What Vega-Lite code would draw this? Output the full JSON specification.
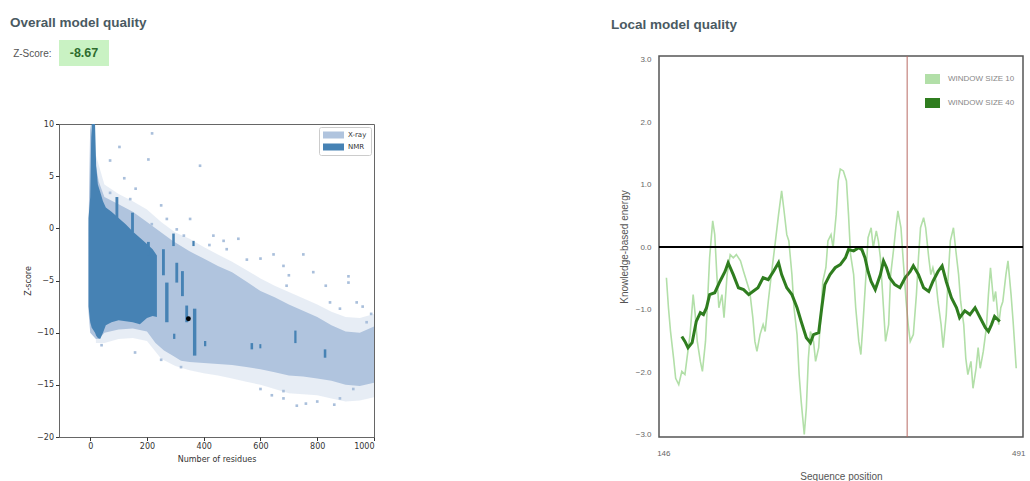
{
  "$schema": "https://vega.github.io/schema/vega-lite/v6.json",
  "background": "white",
  "padding": {"left": 10, "top": 15, "right": 2, "bottom": 0},
  "config": {"font": "Liberation Sans", "axis": {"grid": false}},
  "resolve": {"scale": {"color": "independent"}, "legend": {"color": "independent"}},
  "datasets": {
    "bands": [
      {"type": "X-ray", "n": -6, "z": 0, "z2": -8},
      {"type": "X-ray", "n": 0, "z": 10, "z2": -10},
      {"type": "X-ray", "n": 20, "z": 6, "z2": -10.6},
      {"type": "X-ray", "n": 30, "z": 4.5, "z2": -10.6},
      {"type": "X-ray", "n": 50, "z": 3, "z2": -10},
      {"type": "X-ray", "n": 100, "z": 2.3, "z2": -9.7},
      {"type": "X-ray", "n": 150, "z": 1.6, "z2": -9.6},
      {"type": "X-ray", "n": 200, "z": 0.6, "z2": -9.9},
      {"type": "X-ray", "n": 230, "z": 0, "z2": -11},
      {"type": "X-ray", "n": 260, "z": -0.6, "z2": -11.7},
      {"type": "X-ray", "n": 290, "z": -1.2, "z2": -12.2},
      {"type": "X-ray", "n": 320, "z": -1.7, "z2": -12.7},
      {"type": "X-ray", "n": 350, "z": -2.2, "z2": -12.8},
      {"type": "X-ray", "n": 400, "z": -2.9, "z2": -12.9},
      {"type": "X-ray", "n": 450, "z": -3.6, "z2": -13},
      {"type": "X-ray", "n": 500, "z": -4.2, "z2": -13.1},
      {"type": "X-ray", "n": 550, "z": -5.1, "z2": -13.3},
      {"type": "X-ray", "n": 600, "z": -6.0, "z2": -13.5},
      {"type": "X-ray", "n": 650, "z": -6.6, "z2": -13.8},
      {"type": "X-ray", "n": 700, "z": -7.3, "z2": -14.1},
      {"type": "X-ray", "n": 750, "z": -7.9, "z2": -14.2},
      {"type": "X-ray", "n": 800, "z": -8.5, "z2": -14.4},
      {"type": "X-ray", "n": 850, "z": -9.3, "z2": -14.6},
      {"type": "X-ray", "n": 900, "z": -9.9, "z2": -15.0},
      {"type": "X-ray", "n": 950, "z": -10.0, "z2": -15.1},
      {"type": "X-ray", "n": 1000, "z": -9.4, "z2": -14.8},
      {"type": "NMR", "n": -6, "z": 1.0, "z2": -7.5},
      {"type": "NMR", "n": 0, "z": 3.0, "z2": -9},
      {"type": "NMR", "n": 3, "z": 8, "z2": -9.3},
      {"type": "NMR", "n": 5, "z": 10, "z2": -9.5},
      {"type": "NMR", "n": 17, "z": 10, "z2": -10},
      {"type": "NMR", "n": 21, "z": 6, "z2": -10.3},
      {"type": "NMR", "n": 27, "z": 4.2, "z2": -10.5},
      {"type": "NMR", "n": 35, "z": 3.5, "z2": -10.6},
      {"type": "NMR", "n": 45, "z": 2.6, "z2": -10},
      {"type": "NMR", "n": 55, "z": 2.0, "z2": -9.3},
      {"type": "NMR", "n": 75, "z": 1.6, "z2": -9.0},
      {"type": "NMR", "n": 100, "z": 1.0, "z2": -8.8},
      {"type": "NMR", "n": 125, "z": 0.4, "z2": -8.9},
      {"type": "NMR", "n": 150, "z": -0.3, "z2": -9.0},
      {"type": "NMR", "n": 175, "z": -0.9, "z2": -9.2},
      {"type": "NMR", "n": 200, "z": -1.5, "z2": -8.6},
      {"type": "NMR", "n": 220, "z": -2.0, "z2": -8.4},
      {"type": "NMR", "n": 235, "z": -2.6, "z2": -8.5}
    ],
    "fringe": [
      {"n": 20, "z": 7, "z2": -11},
      {"n": 50, "z": 4.2, "z2": -11},
      {"n": 100, "z": 3.3, "z2": -10.6},
      {"n": 150, "z": 2.6, "z2": -10.5},
      {"n": 200, "z": 1.8, "z2": -10.8},
      {"n": 250, "z": 0.6, "z2": -12.5},
      {"n": 300, "z": -0.4, "z2": -13.2},
      {"n": 350, "z": -1.0, "z2": -13.6},
      {"n": 400, "z": -1.8, "z2": -13.9},
      {"n": 450, "z": -2.5, "z2": -14.1},
      {"n": 500, "z": -3.2, "z2": -14.4},
      {"n": 550, "z": -4.0, "z2": -14.7},
      {"n": 600, "z": -4.8, "z2": -15.0},
      {"n": 650, "z": -5.5, "z2": -15.4},
      {"n": 700, "z": -6.1, "z2": -15.8},
      {"n": 750, "z": -6.7, "z2": -15.9},
      {"n": 800, "z": -7.3, "z2": -16.0},
      {"n": 850, "z": -8.0, "z2": -16.3},
      {"n": 900, "z": -8.5, "z2": -16.6},
      {"n": 950, "z": -8.6, "z2": -16.5},
      {"n": 1000, "z": -8.2, "z2": -16.2}
    ],
    "streaks": [
      {"n": 89, "n2": 99, "z": 3.0, "z2": 0.9},
      {"n": 144, "n2": 154, "z": 1.5, "z2": -0.4},
      {"n": 200, "n2": 210, "z": -1.3, "z2": -2.6},
      {"n": 253, "n2": 263, "z": -2.0, "z2": -4.5},
      {"n": 264, "n2": 276, "z": -5.2, "z2": -9.0},
      {"n": 289, "n2": 298, "z": -0.5, "z2": -1.7},
      {"n": 300, "n2": 310, "z": -3.3, "z2": -5.2},
      {"n": 320, "n2": 330, "z": -4.1, "z2": -6.5},
      {"n": 335, "n2": 345, "z": -7.4, "z2": -9.0},
      {"n": 362, "n2": 374, "z": -7.7, "z2": -12.2},
      {"n": 360, "n2": 368, "z": -1.2, "z2": -1.7},
      {"n": 292, "n2": 300, "z": -10.1, "z2": -10.6},
      {"n": 401, "n2": 409, "z": -10.8, "z2": -11.3},
      {"n": 565, "n2": 574, "z": -11.0, "z2": -11.6},
      {"n": 596, "n2": 603, "z": -11.1, "z2": -11.5},
      {"n": 719, "n2": 727, "z": -9.8, "z2": -11.0},
      {"n": 823, "n2": 832, "z": -11.6, "z2": -12.4}
    ],
    "outliers": [
      {"n": 103, "z": 7.8}, {"n": 218, "z": 9.1}, {"n": 70, "z": 6.5}, {"n": 205, "z": 6.6},
      {"n": 387, "z": 6.0}, {"n": 70, "z": 3.4}, {"n": 141, "z": 2.8}, {"n": 217, "z": 0.4},
      {"n": 270, "z": 0.9}, {"n": 352, "z": 0.9}, {"n": 305, "z": -0.1}, {"n": 434, "z": -0.7},
      {"n": 522, "z": -1.0}, {"n": 481, "z": -2.0}, {"n": 552, "z": -3.0}, {"n": 646, "z": -2.5},
      {"n": 751, "z": -2.5}, {"n": 681, "z": -3.6}, {"n": 786, "z": -4.2}, {"n": 910, "z": -4.6},
      {"n": 910, "z": -5.2}, {"n": 939, "z": -7.1}, {"n": 974, "z": -9.0}, {"n": 845, "z": -7.1},
      {"n": 692, "z": -5.5}, {"n": 880, "z": -7.7}, {"n": 158, "z": -11.9}, {"n": 681, "z": -15.6},
      {"n": 681, "z": -16.3}, {"n": 728, "z": -17.0}, {"n": 760, "z": -16.8}, {"n": 800, "z": -16.6},
      {"n": 860, "z": -16.9}, {"n": 880, "z": -16.3}, {"n": 927, "z": -15.4}, {"n": 600, "z": -15.4},
      {"n": 640, "z": -16.0}, {"n": 120, "z": 4.8}, {"n": 160, "z": 3.8}, {"n": 250, "z": 2.2},
      {"n": 330, "z": -0.7}, {"n": 420, "z": -1.6}, {"n": 470, "z": -1.2}, {"n": 600, "z": -2.9},
      {"n": 700, "z": -4.5}, {"n": 830, "z": -5.5}, {"n": 960, "z": -7.5}, {"n": 990, "z": -8.2},
      {"n": 40, "z": -11.2}, {"n": 250, "z": -12.6}, {"n": 320, "z": -13.3}
    ],
    "model": [{"n": 346, "z": -8.67}],
    "energy": [
      {"w": 10, "pos": 149, "e": -0.49}, {"w": 10, "pos": 151, "e": -0.97}, {"w": 10, "pos": 153, "e": -1.35},
      {"w": 10, "pos": 156, "e": -1.78}, {"w": 10, "pos": 158, "e": -2.10}, {"w": 10, "pos": 161, "e": -2.20},
      {"w": 10, "pos": 164, "e": -1.99}, {"w": 10, "pos": 167, "e": -2.04}, {"w": 10, "pos": 169, "e": -1.78},
      {"w": 10, "pos": 172, "e": -1.40}, {"w": 10, "pos": 175, "e": -0.76}, {"w": 10, "pos": 177, "e": -1.08},
      {"w": 10, "pos": 179, "e": -1.51}, {"w": 10, "pos": 182, "e": -1.83}, {"w": 10, "pos": 184, "e": -1.99},
      {"w": 10, "pos": 187, "e": -1.51}, {"w": 10, "pos": 189, "e": -0.87}, {"w": 10, "pos": 191, "e": -0.17},
      {"w": 10, "pos": 194, "e": 0.42}, {"w": 10, "pos": 196, "e": 0.20}, {"w": 10, "pos": 198, "e": -0.44},
      {"w": 10, "pos": 200, "e": -0.97}, {"w": 10, "pos": 203, "e": -0.76}, {"w": 10, "pos": 205, "e": -1.13},
      {"w": 10, "pos": 208, "e": -0.44}, {"w": 10, "pos": 211, "e": -0.12}, {"w": 10, "pos": 214, "e": -0.17},
      {"w": 10, "pos": 217, "e": -0.12}, {"w": 10, "pos": 221, "e": -0.22}, {"w": 10, "pos": 224, "e": -0.39},
      {"w": 10, "pos": 227, "e": -0.55}, {"w": 10, "pos": 230, "e": -0.71}, {"w": 10, "pos": 233, "e": -1.13},
      {"w": 10, "pos": 235, "e": -1.51}, {"w": 10, "pos": 237, "e": -1.67}, {"w": 10, "pos": 240, "e": -1.40},
      {"w": 10, "pos": 243, "e": -1.24}, {"w": 10, "pos": 245, "e": -1.35}, {"w": 10, "pos": 248, "e": -0.87},
      {"w": 10, "pos": 251, "e": -0.44}, {"w": 10, "pos": 255, "e": 0.10}, {"w": 10, "pos": 258, "e": 0.52},
      {"w": 10, "pos": 261, "e": 0.90}, {"w": 10, "pos": 263, "e": 0.63}, {"w": 10, "pos": 266, "e": 0.20},
      {"w": 10, "pos": 268, "e": 0.10}, {"w": 10, "pos": 271, "e": -0.44}, {"w": 10, "pos": 273, "e": -0.97},
      {"w": 10, "pos": 276, "e": -1.40}, {"w": 10, "pos": 278, "e": -2.04}, {"w": 10, "pos": 280, "e": -2.47},
      {"w": 10, "pos": 283, "e": -3.00}, {"w": 10, "pos": 285, "e": -2.58}, {"w": 10, "pos": 287, "e": -1.78},
      {"w": 10, "pos": 289, "e": -1.35}, {"w": 10, "pos": 292, "e": -1.51}, {"w": 10, "pos": 294, "e": -1.83},
      {"w": 10, "pos": 297, "e": -1.61}, {"w": 10, "pos": 299, "e": -1.13}, {"w": 10, "pos": 301, "e": -0.55},
      {"w": 10, "pos": 304, "e": -0.33}, {"w": 10, "pos": 306, "e": 0.10}, {"w": 10, "pos": 309, "e": 0.20},
      {"w": 10, "pos": 311, "e": -0.01}, {"w": 10, "pos": 314, "e": 0.52}, {"w": 10, "pos": 316, "e": 1.06},
      {"w": 10, "pos": 318, "e": 1.25}, {"w": 10, "pos": 321, "e": 1.22}, {"w": 10, "pos": 324, "e": 1.06},
      {"w": 10, "pos": 326, "e": 0.52}, {"w": 10, "pos": 328, "e": -0.12}, {"w": 10, "pos": 331, "e": -0.44},
      {"w": 10, "pos": 333, "e": -0.97}, {"w": 10, "pos": 336, "e": -1.51}, {"w": 10, "pos": 338, "e": -1.72},
      {"w": 10, "pos": 340, "e": -1.24}, {"w": 10, "pos": 343, "e": -0.44}, {"w": 10, "pos": 345, "e": 0.15},
      {"w": 10, "pos": 348, "e": 0.31}, {"w": 10, "pos": 350, "e": -0.01}, {"w": 10, "pos": 353, "e": 0.26},
      {"w": 10, "pos": 355, "e": 0.10}, {"w": 10, "pos": 357, "e": -0.17}, {"w": 10, "pos": 360, "e": -0.97},
      {"w": 10, "pos": 362, "e": -1.51}, {"w": 10, "pos": 365, "e": -1.24}, {"w": 10, "pos": 367, "e": -0.44},
      {"w": 10, "pos": 370, "e": -0.01}, {"w": 10, "pos": 372, "e": 0.31}, {"w": 10, "pos": 374, "e": 0.58},
      {"w": 10, "pos": 377, "e": 0.31}, {"w": 10, "pos": 379, "e": -0.17}, {"w": 10, "pos": 382, "e": -0.87},
      {"w": 10, "pos": 384, "e": -1.24}, {"w": 10, "pos": 386, "e": -1.51}, {"w": 10, "pos": 389, "e": -1.40},
      {"w": 10, "pos": 392, "e": -0.76}, {"w": 10, "pos": 394, "e": -0.17}, {"w": 10, "pos": 396, "e": 0.31},
      {"w": 10, "pos": 399, "e": 0.47}, {"w": 10, "pos": 401, "e": 0.31}, {"w": 10, "pos": 404, "e": -0.17},
      {"w": 10, "pos": 406, "e": -0.44}, {"w": 10, "pos": 408, "e": -0.33}, {"w": 10, "pos": 411, "e": -0.55},
      {"w": 10, "pos": 413, "e": -0.87}, {"w": 10, "pos": 416, "e": -1.24}, {"w": 10, "pos": 418, "e": -1.61},
      {"w": 10, "pos": 421, "e": -1.08}, {"w": 10, "pos": 423, "e": -0.44}, {"w": 10, "pos": 425, "e": 0.10},
      {"w": 10, "pos": 428, "e": 0.31}, {"w": 10, "pos": 430, "e": -0.01}, {"w": 10, "pos": 433, "e": -0.44},
      {"w": 10, "pos": 435, "e": -0.87}, {"w": 10, "pos": 438, "e": -1.24}, {"w": 10, "pos": 440, "e": -1.78},
      {"w": 10, "pos": 442, "e": -2.04}, {"w": 10, "pos": 445, "e": -1.83}, {"w": 10, "pos": 447, "e": -2.26},
      {"w": 10, "pos": 450, "e": -1.94}, {"w": 10, "pos": 452, "e": -1.61}, {"w": 10, "pos": 454, "e": -1.94},
      {"w": 10, "pos": 457, "e": -1.67}, {"w": 10, "pos": 460, "e": -1.29}, {"w": 10, "pos": 462, "e": -0.76},
      {"w": 10, "pos": 464, "e": -0.33}, {"w": 10, "pos": 467, "e": -0.87}, {"w": 10, "pos": 469, "e": -0.71},
      {"w": 10, "pos": 472, "e": -1.24}, {"w": 10, "pos": 474, "e": -0.97}, {"w": 10, "pos": 476, "e": -0.87},
      {"w": 10, "pos": 479, "e": -0.44}, {"w": 10, "pos": 481, "e": -0.22}, {"w": 10, "pos": 484, "e": -0.76},
      {"w": 10, "pos": 486, "e": -1.19}, {"w": 10, "pos": 489, "e": -1.94},
      {"w": 40, "pos": 164, "e": -1.43}, {"w": 40, "pos": 167, "e": -1.51}, {"w": 40, "pos": 170, "e": -1.61},
      {"w": 40, "pos": 174, "e": -1.53}, {"w": 40, "pos": 178, "e": -1.19}, {"w": 40, "pos": 182, "e": -1.05},
      {"w": 40, "pos": 185, "e": -1.08}, {"w": 40, "pos": 188, "e": -0.97}, {"w": 40, "pos": 191, "e": -0.76},
      {"w": 40, "pos": 196, "e": -0.73}, {"w": 40, "pos": 201, "e": -0.55}, {"w": 40, "pos": 206, "e": -0.39},
      {"w": 40, "pos": 209, "e": -0.25}, {"w": 40, "pos": 214, "e": -0.44}, {"w": 40, "pos": 219, "e": -0.65},
      {"w": 40, "pos": 224, "e": -0.68}, {"w": 40, "pos": 229, "e": -0.76}, {"w": 40, "pos": 233, "e": -0.71},
      {"w": 40, "pos": 238, "e": -0.65}, {"w": 40, "pos": 243, "e": -0.49}, {"w": 40, "pos": 248, "e": -0.52},
      {"w": 40, "pos": 253, "e": -0.39}, {"w": 40, "pos": 258, "e": -0.25}, {"w": 40, "pos": 261, "e": -0.44},
      {"w": 40, "pos": 266, "e": -0.65}, {"w": 40, "pos": 271, "e": -0.76}, {"w": 40, "pos": 276, "e": -0.97},
      {"w": 40, "pos": 280, "e": -1.19}, {"w": 40, "pos": 285, "e": -1.45}, {"w": 40, "pos": 289, "e": -1.53},
      {"w": 40, "pos": 292, "e": -1.40}, {"w": 40, "pos": 297, "e": -1.37}, {"w": 40, "pos": 300, "e": -0.97},
      {"w": 40, "pos": 303, "e": -0.60}, {"w": 40, "pos": 308, "e": -0.44}, {"w": 40, "pos": 313, "e": -0.33},
      {"w": 40, "pos": 318, "e": -0.28}, {"w": 40, "pos": 323, "e": -0.17}, {"w": 40, "pos": 326, "e": -0.04},
      {"w": 40, "pos": 331, "e": -0.06}, {"w": 40, "pos": 336, "e": -0.01}, {"w": 40, "pos": 339, "e": -0.04},
      {"w": 40, "pos": 342, "e": -0.17}, {"w": 40, "pos": 345, "e": -0.39}, {"w": 40, "pos": 348, "e": -0.55},
      {"w": 40, "pos": 352, "e": -0.68}, {"w": 40, "pos": 357, "e": -0.44}, {"w": 40, "pos": 360, "e": -0.22},
      {"w": 40, "pos": 363, "e": -0.33}, {"w": 40, "pos": 366, "e": -0.49}, {"w": 40, "pos": 371, "e": -0.60},
      {"w": 40, "pos": 376, "e": -0.65}, {"w": 40, "pos": 381, "e": -0.49}, {"w": 40, "pos": 386, "e": -0.39},
      {"w": 40, "pos": 389, "e": -0.30}, {"w": 40, "pos": 394, "e": -0.44}, {"w": 40, "pos": 399, "e": -0.65},
      {"w": 40, "pos": 404, "e": -0.71}, {"w": 40, "pos": 408, "e": -0.55}, {"w": 40, "pos": 413, "e": -0.39},
      {"w": 40, "pos": 417, "e": -0.30}, {"w": 40, "pos": 421, "e": -0.55}, {"w": 40, "pos": 426, "e": -0.81},
      {"w": 40, "pos": 431, "e": -0.97}, {"w": 40, "pos": 434, "e": -1.13}, {"w": 40, "pos": 439, "e": -1.02},
      {"w": 40, "pos": 444, "e": -1.08}, {"w": 40, "pos": 449, "e": -0.97}, {"w": 40, "pos": 454, "e": -1.13},
      {"w": 40, "pos": 459, "e": -1.29}, {"w": 40, "pos": 462, "e": -1.35}, {"w": 40, "pos": 465, "e": -1.24},
      {"w": 40, "pos": 468, "e": -1.11}, {"w": 40, "pos": 473, "e": -1.19}
    ],
    "markers": [{"zero": 0, "sel": 383}]
  },
  "spacing": 235,
  "hconcat": [
    {
      "bounds": "flush",
      "spacing": 58,
      "resolve": {"scale": {"color": "independent"}, "legend": {"color": "independent"}},
      "vconcat": [
        {
          "width": 50,
          "height": 26,
          "data": {"values": [{"label": "Z-Score:", "score": "-8.67"}]},
          "title": {"text": "Overall model quality", "anchor": "start", "frame": "group", "dx": -49, "offset": 11, "fontSize": 13.5, "fontWeight": "bold", "color": "#4a5a62"},
          "view": {"fill": "#c9f2c3", "stroke": null},
          "mark": {"type": "text", "fontWeight": "bold", "fontSize": 12.5, "color": "#2e6b2e"},
          "encoding": {
            "y": {"field": "label", "type": "nominal", "axis": {"title": null, "domain": false, "ticks": false, "labelFontSize": 10, "labelColor": "#555", "labelPadding": 8}},
            "text": {"field": "score"}
          }
        },
        {
          "width": 315,
          "height": 313,
          "view": {"stroke": "#666", "strokeWidth": 1},
          "encoding": {
            "x": {"field": "n", "type": "quantitative", "scale": {"domain": [-110, 1000], "nice": false, "zero": false},
              "axis": {"values": [0, 200, 400, 600, 800, 1000], "format": "d", "domain": false, "labelFont": "DejaVu Sans", "labelFontSize": 8, "labelColor": "#333", "tickColor": "#333", "tickSize": 3.5, "labelPadding": 2, "title": "Number of residues", "titleFont": "DejaVu Sans", "titleFontSize": 8, "titleFontWeight": "normal", "titleColor": "#333", "titlePadding": 5}},
            "y": {"field": "z", "type": "quantitative", "scale": {"domain": [-20, 10], "nice": false, "zero": false},
              "axis": {"values": [-20, -15, -10, -5, 0, 5, 10], "domain": false, "labelFont": "DejaVu Sans", "labelFontSize": 8, "labelColor": "#333", "tickColor": "#333", "tickSize": 3.5, "labelPadding": 2, "title": "Z-score", "titleFont": "DejaVu Sans", "titleFontSize": 8, "titleFontWeight": "normal", "titleColor": "#333", "titlePadding": 4}}
          },
          "layer": [
            {
              "data": {"name": "fringe"},
              "mark": {"type": "area", "color": "#b0c4de", "opacity": 0.3, "clip": true},
              "encoding": {"y2": {"field": "z2"}}
            },
            {
              "data": {"name": "bands"},
              "transform": [{"filter": "datum.type == 'X-ray'"}],
              "mark": {"type": "area", "clip": true},
              "encoding": {
                "y2": {"field": "z2"},
                "color": {"field": "type", "type": "nominal", "scale": {"domain": ["X-ray", "NMR"], "range": ["#b0c4de", "#4682b4"]},
                  "legend": {"title": null, "orient": "top-right", "offset": 3, "padding": 4, "fillColor": "white", "strokeColor": "#ccc", "cornerRadius": 2, "symbolType": "M-1,-0.33H1V0.33H-1Z", "symbolSize": 441, "clipHeight": 8, "rowPadding": 4, "labelFontSize": 7, "labelFont": "DejaVu Sans", "labelColor": "#333", "symbolStrokeWidth": 0, "symbolOpacity": 1}}
              }
            },
            {
              "data": {"name": "outliers"},
              "mark": {"type": "square", "size": 7, "color": "#a9bfdb", "opacity": 1, "clip": true}
            },
            {
              "data": {"name": "bands"},
              "transform": [{"filter": "datum.type == 'NMR'"}],
              "mark": {"type": "area", "clip": true},
              "encoding": {
                "y2": {"field": "z2"},
                "color": {"field": "type", "type": "nominal", "scale": {"domain": ["X-ray", "NMR"], "range": ["#b0c4de", "#4682b4"]}}
              }
            },
            {
              "data": {"name": "streaks"},
              "mark": {"type": "rect", "color": "#4682b4", "clip": true},
              "encoding": {"x2": {"field": "n2"}, "y2": {"field": "z2"}}
            },
            {
              "data": {"name": "model"},
              "mark": {"type": "circle", "size": 24, "color": "black", "opacity": 1}
            }
          ]
        }
      ]
    },
    {
      "bounds": "flush",
      "spacing": 15,
      "vconcat": [
        {
          "width": 364,
          "height": 1,
          "data": {"values": []},
          "mark": "point",
          "encoding": {},
          "view": {"stroke": null}
        },
        {
          "width": 364,
          "height": 381,
          "title": {"text": "Local model quality", "anchor": "start", "frame": "group", "dx": -48, "offset": 24, "fontSize": 13.5, "fontWeight": "bold", "color": "#4a5a62"},
          "view": {"stroke": "#555", "strokeWidth": 1.5},
          "layer": [
            {
              "data": {"name": "energy"},
              "transform": [{"filter": "datum.w == 10"}],
              "mark": {"type": "line", "clip": true},
              "encoding": {
                "x": {"field": "pos", "type": "quantitative", "scale": {"domain": [141.8, 495.6], "nice": false, "zero": false},
                  "axis": {"values": [146, 491], "ticks": false, "domain": false, "labelFontSize": 8, "labelColor": "#666", "labelPadding": 12, "labelFlush": false, "title": "Sequence position", "titleFontSize": 10, "titleFontWeight": "normal", "titleColor": "#555", "titlePadding": 14}},
                "y": {"field": "e", "type": "quantitative", "scale": {"domain": [-3.04, 3.06], "nice": false, "zero": false},
                  "axis": {"values": [-3, -2, -1, 0, 1, 2, 3], "format": ".1f", "ticks": false, "domain": false, "labelFontSize": 8, "labelColor": "#666", "labelPadding": 8, "title": "Knowledge-based energy", "titleFontSize": 10, "titleFontWeight": "normal", "titleColor": "#555", "titlePadding": 6}},
                "strokeWidth": {"value": 1.6},
                "color": {"field": "w", "type": "nominal", "scale": {"domain": [10, 40], "range": ["#b2dfa8", "#2f7d1f"]},
                  "legend": {"title": null, "orient": "none", "legendX": 266, "legendY": 34, "symbolType": "M-1,-0.5H1V0.5H-1Z", "symbolSize": 100, "symbolStrokeWidth": 5, "clipHeight": 10, "rowPadding": 14, "labelFontSize": 8, "labelColor": "#888", "labelOffset": 8, "labelExpr": "'WINDOW SIZE ' + datum.label"}}
              }
            },
            {
              "data": {"name": "energy"},
              "transform": [{"filter": "datum.w == 40"}],
              "mark": {"type": "line", "clip": true},
              "encoding": {
                "x": {"field": "pos", "type": "quantitative"},
                "y": {"field": "e", "type": "quantitative"},
                "strokeWidth": {"value": 3},
                "color": {"field": "w", "type": "nominal", "scale": {"domain": [10, 40], "range": ["#b2dfa8", "#2f7d1f"]}}
              }
            },
            {
              "data": {"name": "markers"},
              "mark": {"type": "rule", "color": "black", "strokeWidth": 2},
              "encoding": {"y": {"field": "zero", "type": "quantitative"}}
            },
            {
              "data": {"name": "markers"},
              "mark": {"type": "rule", "color": "#b86a64", "strokeWidth": 1},
              "encoding": {"x": {"field": "sel", "type": "quantitative"}}
            }
          ]
        }
      ]
    }
  ]
}
